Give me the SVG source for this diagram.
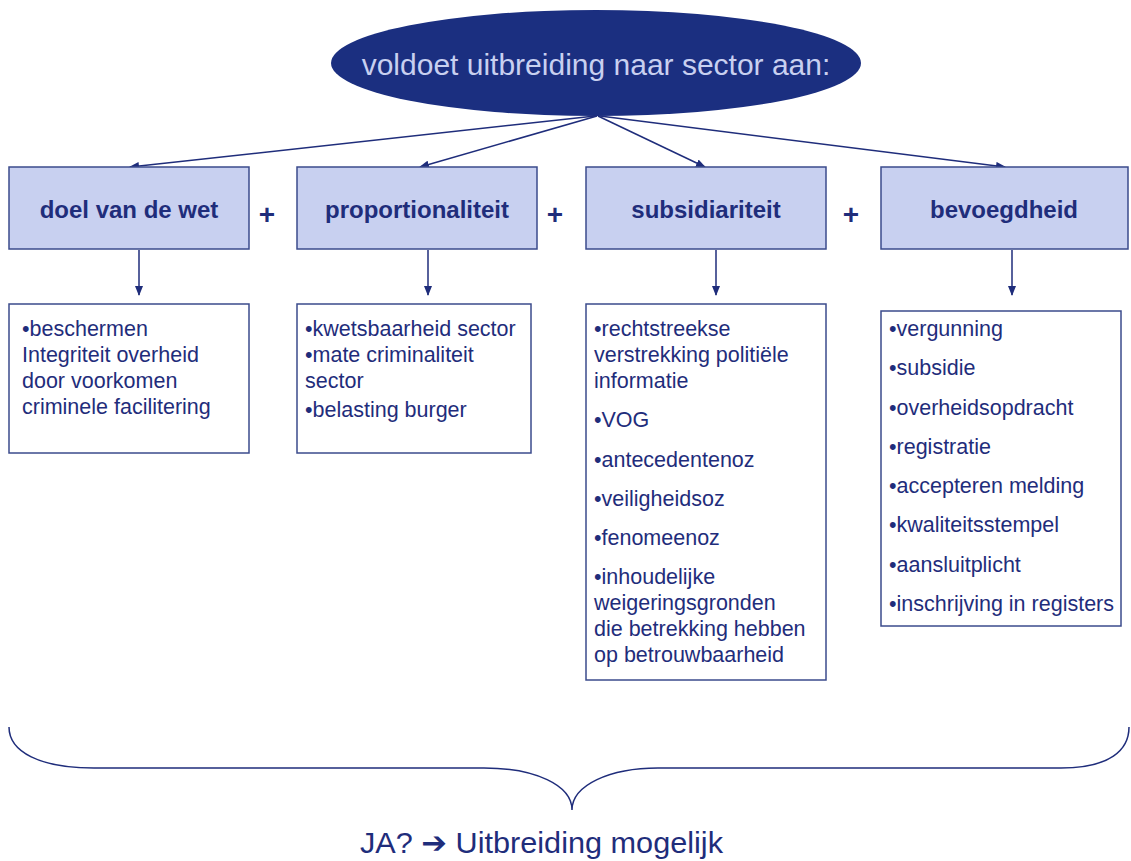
<svg xmlns="http://www.w3.org/2000/svg" width="1131" height="861" viewBox="0 0 1131 861">
<defs>
<marker id="ah" markerWidth="10" markerHeight="8" refX="9" refY="4" orient="auto" markerUnits="userSpaceOnUse">
<path d="M0,0 L10,4 L0,8 z" fill="#1f2d7b"/>
</marker>
<style>
.hdr{fill:#c8d0f0;stroke:#3b4b8c;stroke-width:1.5}
.box{fill:#ffffff;stroke:#3b4b8c;stroke-width:1.5}
.ht{font-family:"Liberation Sans",Arial,sans-serif;font-weight:bold;font-size:24px;fill:#1f2d7b;text-anchor:middle}
.bt{font-family:"Liberation Sans",Arial,sans-serif;font-size:21.5px;fill:#1f2d7b}
.plus{font-family:"Liberation Sans",Arial,sans-serif;font-weight:bold;font-size:28px;fill:#1f2d7b;text-anchor:middle}
.con{stroke:#1f2d7b;stroke-width:1.5;fill:none}
</style>
</defs>
<rect width="1131" height="861" fill="#ffffff"/>
<g id="top">
<ellipse cx="596" cy="63" rx="265" ry="53" fill="#1b2f80"/>
<text x="596" y="75" font-family="'Liberation Sans',Arial,sans-serif" font-size="30" fill="#c8d0f0" text-anchor="middle">voldoet uitbreiding naar sector aan:</text>
</g>
<g id="connectors">
<line class="con" x1="595" y1="116" x2="130" y2="167" marker-end="url(#ah)"/>
<line class="con" x1="597" y1="116" x2="420" y2="167" marker-end="url(#ah)"/>
<line class="con" x1="598" y1="116" x2="705" y2="167" marker-end="url(#ah)"/>
<line class="con" x1="600" y1="116" x2="1005" y2="167" marker-end="url(#ah)"/>
<line class="con" x1="139" y1="250" x2="139" y2="295" marker-end="url(#ah)"/>
<line class="con" x1="428" y1="250" x2="428" y2="295" marker-end="url(#ah)"/>
<line class="con" x1="716" y1="250" x2="716" y2="295" marker-end="url(#ah)"/>
<line class="con" x1="1012" y1="250" x2="1012" y2="295" marker-end="url(#ah)"/>
</g>
<g id="h1"><rect class="hdr" x="9" y="167" width="240" height="82"/><text class="ht" x="129" y="218">doel van de wet</text></g>
<g id="h2"><rect class="hdr" x="297" y="167" width="240" height="82"/><text class="ht" x="417" y="218">proportionaliteit</text></g>
<g id="h3"><rect class="hdr" x="586" y="167" width="240" height="82"/><text class="ht" x="706" y="218">subsidiariteit</text></g>
<g id="h4"><rect class="hdr" x="881" y="167" width="247" height="82"/><text class="ht" x="1004" y="218">bevoegdheid</text></g>
<g id="plus">
<text class="plus" x="267" y="224">+</text>
<text class="plus" x="555" y="224">+</text>
<text class="plus" x="851" y="224">+</text>
</g>
<g id="b1"><rect class="box" x="9" y="304" width="240" height="149"/>
<text class="bt"><tspan x="22" y="336">•beschermen</tspan><tspan x="22" y="362">Integriteit overheid</tspan><tspan x="22" y="388">door voorkomen</tspan><tspan x="22" y="414">criminele facilitering</tspan></text></g>
<g id="b2"><rect class="box" x="297" y="304" width="234" height="149"/>
<text class="bt"><tspan x="305" y="336">•kwetsbaarheid sector</tspan><tspan x="305" y="362">•mate criminaliteit</tspan><tspan x="305" y="388">sector</tspan><tspan x="305" y="417">•belasting burger</tspan></text></g>
<g id="b3"><rect class="box" x="586" y="304" width="240" height="376"/>
<text class="bt"><tspan x="594" y="336">•rechtstreekse</tspan><tspan x="594" y="362">verstrekking politiële</tspan><tspan x="594" y="388">informatie</tspan><tspan x="594" y="427">•VOG</tspan><tspan x="594" y="467">•antecedentenoz</tspan><tspan x="594" y="506">•veiligheidsoz</tspan><tspan x="594" y="545">•fenomeenoz</tspan><tspan x="594" y="584">•inhoudelijke</tspan><tspan x="594" y="610">weigeringsgronden</tspan><tspan x="594" y="636">die betrekking hebben</tspan><tspan x="594" y="662">op betrouwbaarheid</tspan></text></g>
<g id="b4"><rect class="box" x="881" y="311" width="240" height="315"/>
<text class="bt"><tspan x="889" y="336">•vergunning</tspan><tspan x="889" y="375">•subsidie</tspan><tspan x="889" y="415">•overheidsopdracht</tspan><tspan x="889" y="454">•registratie</tspan><tspan x="889" y="493">•accepteren melding</tspan><tspan x="889" y="532">•kwaliteitsstempel</tspan><tspan x="889" y="572">•aansluitplicht</tspan><tspan x="889" y="611">•inschrijving in registers</tspan></text></g>
<g id="brace">
<path class="con" d="M9,727 C9,752 40,768 94,768 L484,768 C535,768 572,785 572,810 C572,785 610,768 658,768 L1061,768 C1110,768 1129,750 1129,727"/>
<text x="360" y="853" textLength="363" lengthAdjust="spacingAndGlyphs" font-family="'Liberation Sans',Arial,sans-serif" font-size="30" fill="#1f2d7b">JA? <tspan font-family="'DejaVu Sans',sans-serif" font-weight="bold">➔</tspan> Uitbreiding mogelijk</text>
</g>
</svg>
